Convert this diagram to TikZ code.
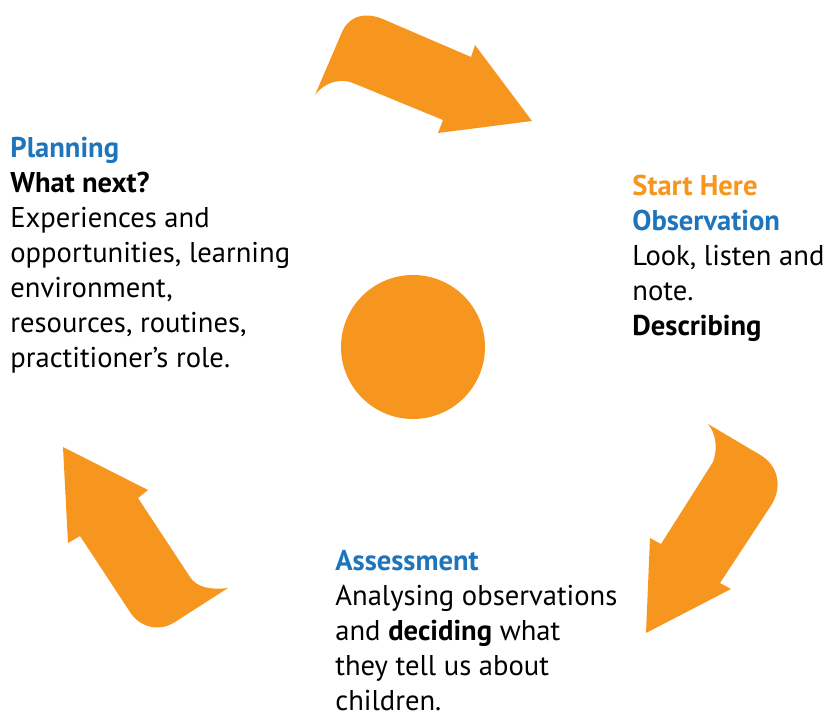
\documentclass[tikz,border=0pt]{standalone}
\usepackage{fontspec}
\setmainfont{PT Sans}
\definecolor{cycleorange}{RGB}{247,150,30}
\definecolor{cycleblue}{RGB}{30,117,188}
\tikzset{
  cyclearrow/.style={fill=cycleorange, draw=none},
  blocktext/.style={anchor=base west, inner sep=0pt, align=left,
    font=\fontsize{14.3}{17.5}\selectfont}
}

\begin{document}
\begin{tikzpicture}[x=0.5pt, y=-0.5pt]
  \useasboundingbox (0,0) rectangle (824,715);

  % top arrow: planning -> observation
  \fill[cyclearrow] (315,95) -- (342,32) .. controls (350,14) and (368,12) .. (385,20)
        -- (471,57) -- (475,45) -- (532,121) -- (438,133) -- (443,120)
        -- (353,83) .. controls (340,78) and (325,82) .. (315,95) -- cycle;

  % right arrow: observation -> assessment
  \fill[cyclearrow] (708,424) -- (762,456) .. controls (780,468) and (782,490) .. (770,507)
        -- (720,583) -- (731,589) -- (646,633) -- (650,538) -- (661,544)
        -- (713,462) .. controls (718,448) and (716,434) .. (708,424) -- cycle;

  % left arrow: assessment -> planning
  \fill[cyclearrow] (63,447) -- (148,490) -- (138,498) -- (190,577)
        .. controls (197,588) and (212,590) .. (228,588)
        -- (175,622) .. controls (160,632) and (140,628) .. (130,612)
        -- (80,536) -- (68,543) -- cycle;

  % centre
  \node (hub) [circle, fill=cycleorange, minimum size=72pt, inner sep=0pt] at (413,347) {};

  % base = last line
  \node (planning) [blocktext] at (10,368)
    {\textbf{\color{cycleblue}Planning}\\
     \textbf{What next?}\\
     Experiences and\\
     opportunities, learning\\
     environment,\\
     resources, routines,\\
     practitioner’s role.};

  \node (observation) [blocktext] at (632,336)
    {\textbf{\color{cycleorange}Start Here}\\
     \textbf{\color{cycleblue}Observation}\\
     Look, listen and\\
     note.\\
     \textbf{Describing}};

  \node (assessment) [blocktext] at (335,710)
    {\textbf{\color{cycleblue}Assessment}\\
     Analysing observations\\
     and \textbf{deciding} what\\
     they tell us about\\
     children.};
\end{tikzpicture}
\end{document}
